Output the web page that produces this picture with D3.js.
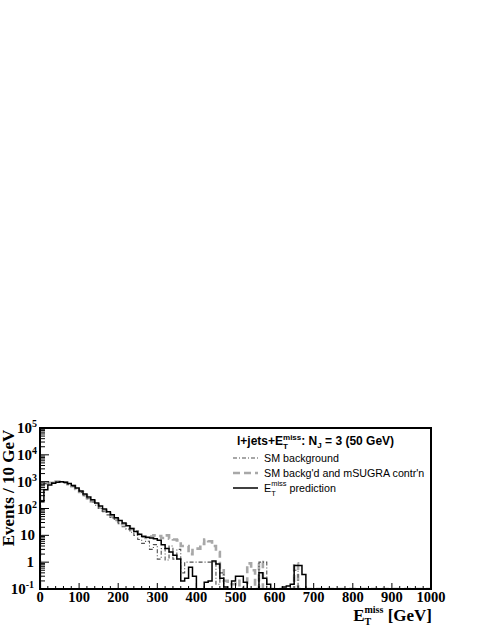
<!DOCTYPE html>
<html><head><meta charset="utf-8">
<script src="https://cdn.jsdelivr.net/npm/d3@7"></script>
<style>body{margin:0;background:#fff}svg{display:block}text{white-space:pre}</style>
</head><body>
<script>
// bin lower edges are 0,10,20,... (10 GeV bins), values in events / 10 GeV
const binWidth = 10;
const prediction = [180,500,750,880,960,1000,950,850,720,580,450,350,270,210,160,125,95,75,58,45,36,29,23,18,14,11,9,8.5,8,7.5,6.5,4.5,3.2,2.4,1.8,1.3,0.2,0.25,0.65,0.3,0,0.1,0.18,0.2,1.1,0.85,0.25,0.12,0,0.2,0.3,0.3,0.18,0.1,0,0,0.4,0.25,0.15,0.1,0,0,0.12,0.13,0.15,0.75,0.75,0.35];
const smMsugra = [800,850,900,950,1000,1000,920,800,680,540,410,310,240,185,140,108,82,64,50,40,32,26,21,17,14,11,9,8,9,10,9.5,8,10,7.5,7,6.5,4,4,2,3.2,3.2,4.8,7,6,4,2.4,0.5,0.2,0.15,0.15,0.2,0.12,0,0.9,0.5,0,1,0,0,0,0,0,0,0,0,0.9];
const smBackground = [800,850,900,950,1000,1000,920,800,680,540,400,300,230,175,132,100,76,58,44,35,27,21,17,13,10,7,5,6,3,4.5,1.3,3.2,1.2,4,1.3,3,0.4,1,1,1,1,1,1,1,1,0.15,0.4,0,0,0,0,0,0,0,0,0,1,1,0,0,0,0,0,0,0,0.5];
const xTicks = [0,100,200,300,400,500,600,700,800,900,1000];
const yDecades = [-1,0,1,2,3,4,5];
const legendLabels = ["SM background","SM backg'd and mSUGRA contr'n","prediction"];

const W = 485, H = 627;
const L = 40, R = 431, T = 428, B = 589;
const svg = d3.select("body").append("svg").attr("width", W).attr("height", H);
const x = d3.scaleLinear().domain([0,1000]).range([L,R]);
const y = d3.scaleLog().domain([0.1,1e5]).range([B,T]);

svg.append("clipPath").attr("id","clip").append("rect")
  .attr("x",L).attr("y",T).attr("width",R-L).attr("height",B-T);

function histPath(vals){
  const lo = 0.1;
  const p = d3.path();
  p.moveTo(x(0), y(lo));
  vals.forEach((v,i)=>{
    const yy = y(Math.max(v,lo));
    p.lineTo(x(i*binWidth), yy);
    p.lineTo(x((i+1)*binWidth), yy);
  });
  p.lineTo(x(vals.length*binWidth), y(lo));
  p.lineTo(x(1000), y(lo));
  return p.toString();
}
const g = svg.append("g").attr("clip-path","url(#clip)");
g.append("path").attr("d",histPath(smMsugra)).attr("fill","none")
  .attr("stroke","#a8a8a8").attr("stroke-width",2.6).attr("stroke-dasharray","7,4");
g.append("path").attr("d",histPath(smBackground)).attr("fill","none")
  .attr("stroke","#505050").attr("stroke-width",1.1).attr("stroke-dasharray","4,2,1,2");
g.append("path").attr("d",histPath(prediction)).attr("fill","none")
  .attr("stroke","#000").attr("stroke-width",1.5);

// frame
svg.append("rect").attr("x",L).attr("y",T).attr("width",R-L).attr("height",B-T)
  .attr("fill","none").attr("stroke","#000").attr("stroke-width",2);

// x ticks
const xMinor = d3.range(0,1001,20);
svg.append("g").selectAll("line").data(xMinor).join("line")
  .attr("x1",d=>x(d)).attr("x2",d=>x(d))
  .attr("y1",B).attr("y2",d=>B-(d%100===0?6:3))
  .attr("stroke","#000").attr("stroke-width",1);
svg.append("g").selectAll("text").data(xTicks).join("text")
  .attr("x",d=>x(d)).attr("y",602).attr("text-anchor","middle")
  .attr("font-family","Liberation Serif").attr("font-weight","bold").attr("font-size",14.5)
  .text(d=>d);

// y ticks
const yMinor = [];
for(let e=-1;e<5;e++) for(let k=1;k<10;k++) yMinor.push(k*Math.pow(10,e));
yMinor.push(1e5);
svg.append("g").selectAll("line").data(yMinor).join("line")
  .attr("x1",L).attr("x2",d=>{const l=Math.log10(d);return L+(Math.abs(l-Math.round(l))<1e-9?9:5);})
  .attr("y1",d=>y(d)).attr("y2",d=>y(d))
  .attr("stroke","#000").attr("stroke-width",1);
const yl = svg.append("g").attr("font-family","Liberation Serif").attr("font-weight","bold");
yDecades.forEach(e=>{
  const yy = y(Math.pow(10,e)) + 5;
  if(e===0){
    yl.append("text").attr("x",34).attr("y",yy).attr("text-anchor","end").attr("font-size",15).text("1");
  } else if(e===1){
    yl.append("text").attr("x",35).attr("y",yy).attr("text-anchor","end").attr("font-size",15).text("10");
  } else {
    const t = yl.append("text").attr("x",e<0?34:37).attr("y",yy).attr("text-anchor","end").attr("font-size",15);
    t.append("tspan").text("10");
    t.append("tspan").attr("font-size",10).attr("dy",-6).text(String(e));
  }
});

// rich text helper: segments placed one after another; {stack:true} means no advance
function rich(parent, x0, y0, segs, attrs){
  let cx = x0;
  segs.forEach(s=>{
    const t = parent.append("text").attr("x",cx).attr("y",y0+(s.dy||0))
      .attr("font-size",s.size).text(s.t);
    Object.entries(attrs).forEach(([k,v])=>t.attr(k,v));
    const w = t.node().getComputedTextLength();
    if(!s.stack) cx += w;
  });
  return cx;
}

// axis titles
svg.append("text").attr("transform","translate(14,488) rotate(-90)")
  .attr("text-anchor","middle").attr("font-family","Liberation Serif").attr("font-weight","bold")
  .attr("font-size",17).text("Events / 10 GeV");
const xg = svg.append("g");
const xEnd = rich(xg, 0, 621, [
  {t:"E", size:17},
  {t:"T", size:10, dy:4, stack:true},
  {t:"miss", size:10, dy:-8},
  {t:" [GeV]", size:17}
], {"font-family":"Liberation Serif","font-weight":"bold"});
xg.attr("transform",`translate(${432 - xEnd},0)`);

// legend
const lg = svg.append("g");
rich(lg, 237, 445, [
  {t:"l+jets+E", size:12},
  {t:"T", size:8, dy:4, stack:true},
  {t:"miss", size:8, dy:-5},
  {t:": N", size:12},
  {t:"J", size:8, dy:3},
  {t:" = 3 (50 GeV)", size:12}
], {"font-family":"Liberation Sans","font-weight":"bold"});

const ly = [458,473,488];
lg.append("line").attr("x1",233).attr("x2",258).attr("y1",ly[0]).attr("y2",ly[0])
  .attr("stroke","#505050").attr("stroke-width",1.1).attr("stroke-dasharray","4,2,1,2");
lg.append("line").attr("x1",233).attr("x2",258).attr("y1",ly[1]).attr("y2",ly[1])
  .attr("stroke","#a8a8a8").attr("stroke-width",2.6).attr("stroke-dasharray","7,4");
lg.append("line").attr("x1",233).attr("x2",258).attr("y1",ly[2]).attr("y2",ly[2])
  .attr("stroke","#000").attr("stroke-width",1.5);
const lfs = 10.7;
lg.append("text").attr("x",264).attr("y",ly[0]+4).attr("font-family","Liberation Sans").attr("font-size",lfs).text(legendLabels[0]);
lg.append("text").attr("x",264).attr("y",ly[1]+4).attr("font-family","Liberation Sans").attr("font-size",lfs).text(legendLabels[1]);
rich(lg, 264, ly[2]+4, [
  {t:"E", size:lfs},
  {t:"T", size:7.5, dy:4, stack:true},
  {t:"miss", size:7.5, dy:-6},
  {t:" " + legendLabels[2], size:lfs}
], {"font-family":"Liberation Sans"});
</script>
</body></html>
